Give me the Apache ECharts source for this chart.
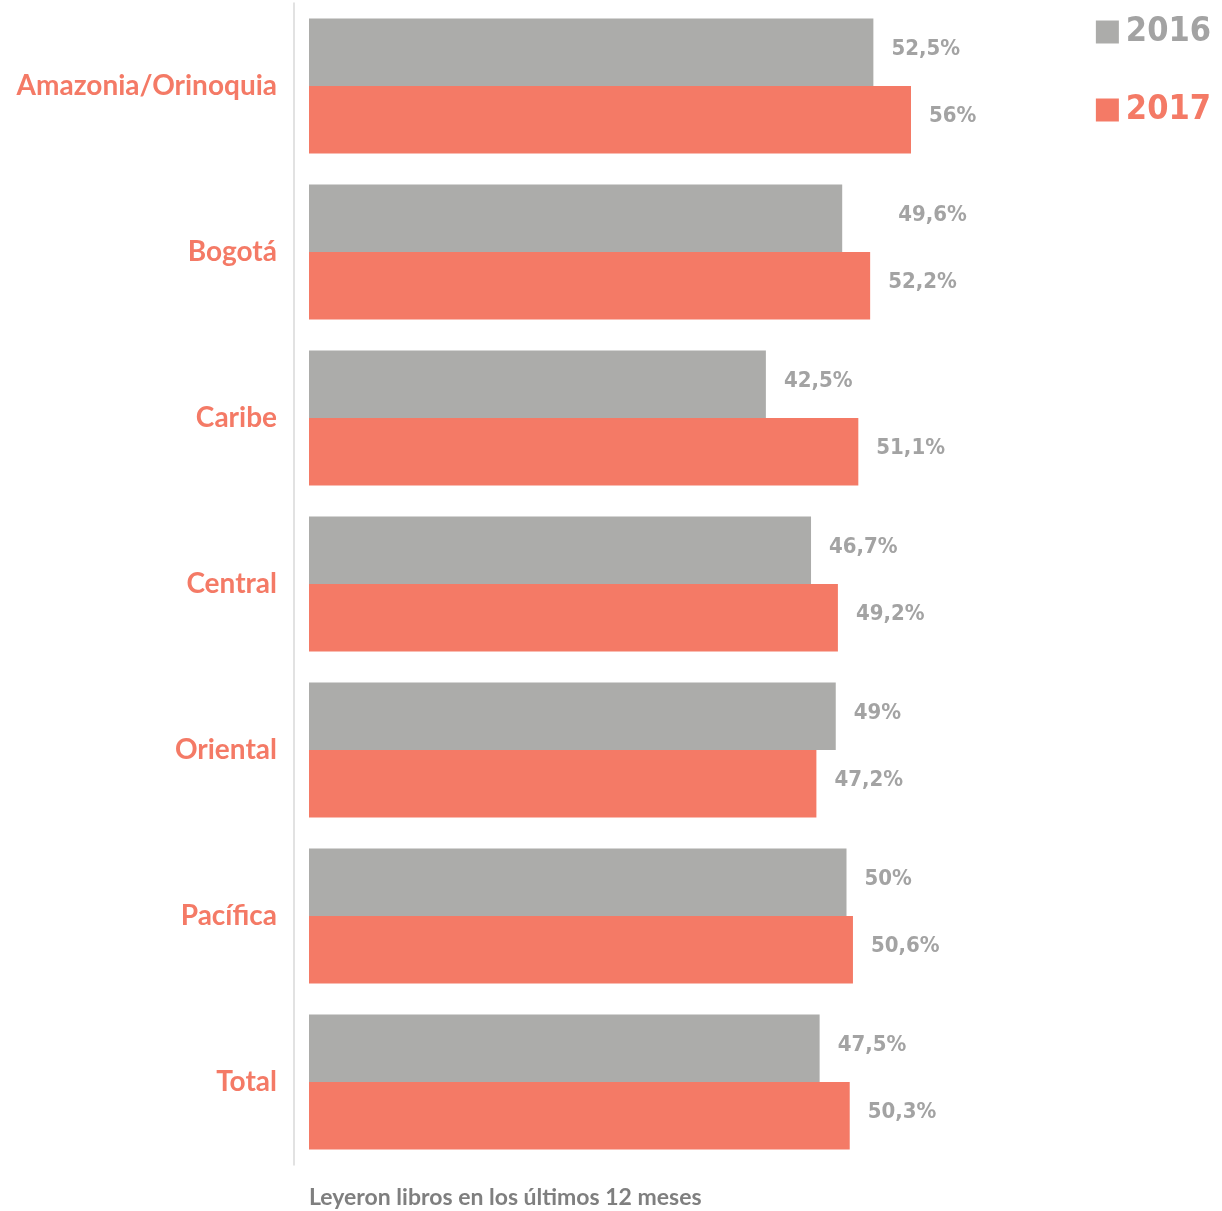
<!DOCTYPE html>
<html>
<head>
<meta charset="utf-8">
<script src="https://cdn.jsdelivr.net/npm/echarts@6/dist/echarts.min.js"></script>
<style>
    html, body { margin: 0; padding: 0; background: #ffffff; }
    #chart { width: 1222px; height: 1211px; }
</style>
</head>
<body>
<div id="chart"></div>
<script>
// datos
const regiones = ["Amazonia/Orinoquia", "Bogotá", "Caribe", "Central", "Oriental", "Pacífica", "Total"];
const valores2016 = [52.5, 49.6, 42.5, 46.7, 49, 50, 47.5];
const valores2017 = [56, 52.2, 51.1, 49.2, 47.2, 50.6, 50.3];
const etiquetas2016 = ["52,5%", "49,6%", "42,5%", "46,7%", "49%", "50%", "47,5%"];
const etiquetas2017 = ["56%", "52,2%", "51,1%", "49,2%", "47,2%", "50,6%", "50,3%"];

const gris = "#acacaa";
const salmon = "#f47a66";
const grisTexto = "#a3a3a3";
const fuenteCondensada = "'DejaVu Sans Condensed', 'DejaVu Sans'";

let chart = echarts.init(document.getElementById("chart"));

let labelBase = {
    show: true,
    position: "right",
    distance: 18,
    offset: [0, -3],
    color: grisTexto,
    fontFamily: fuenteCondensada,
    fontWeight: "bold",
    fontSize: 22
};

let options = {
    animation: false,
    title: {
        text: "Leyeron libros en los últimos 12 meses",
        left: 304,
        top: 1181,
        textStyle: {
            color: "#7f7f7f",
            fontFamily: "Lato",
            fontWeight: "bold",
            fontSize: 23
        }
    },
    legend: {
        orient: "vertical",
        right: 6,
        top: 9,
        itemWidth: 23,
        itemHeight: 23,
        itemGap: 42,
        icon: "rect",
        selectedMode: false,
        textStyle: {
            fontFamily: fuenteCondensada,
            fontWeight: "bold",
            fontSize: 34,
            lineHeight: 36,
            padding: [0, 0, 0, 2]
        },
        data: [
            { name: "2016", textStyle: { color: grisTexto } },
            { name: "2017", textStyle: { color: salmon } }
        ]
    },
    grid: {
        left: 309,
        right: 53,
        top: 3,
        bottom: 46,
        containLabel: false
    },
    xAxis: {
        type: "value",
        min: 0,
        max: 80,
        show: false
    },
    yAxis: {
        type: "category",
        inverse: true,
        data: regiones,
        offset: 15,
        axisLine: {
            show: true,
            onZero: false,
            lineStyle: { color: "#d9d9d9", width: 1.5 }
        },
        axisTick: { show: false },
        axisLabel: {
            margin: 17,
            color: salmon,
            fontFamily: "Lato",
            fontWeight: "bold",
            fontSize: 28,
            padding: [0, 0, 10, 0]
        }
    },
    series: [
        {
            name: "2016",
            type: "bar",
            barGap: "0%",
            barCategoryGap: "18.7%",
            itemStyle: { color: gris },
            label: Object.assign({}, labelBase, {
                formatter: function (p) { return etiquetas2016[p.dataIndex]; }
            }),
            // la etiqueta de Bogotá 2016 está más separada en el original
            data: valores2016.map(function (v, i) {
                return i === 1 ? { value: v, label: { offset: [38, -3] } } : v;
            })
        },
        {
            name: "2017",
            type: "bar",
            itemStyle: { color: salmon },
            label: Object.assign({}, labelBase, {
                formatter: function (p) { return etiquetas2017[p.dataIndex]; }
            }),
            data: valores2017
        }
    ]
};

chart.setOption(options);
</script>
</body>
</html>
